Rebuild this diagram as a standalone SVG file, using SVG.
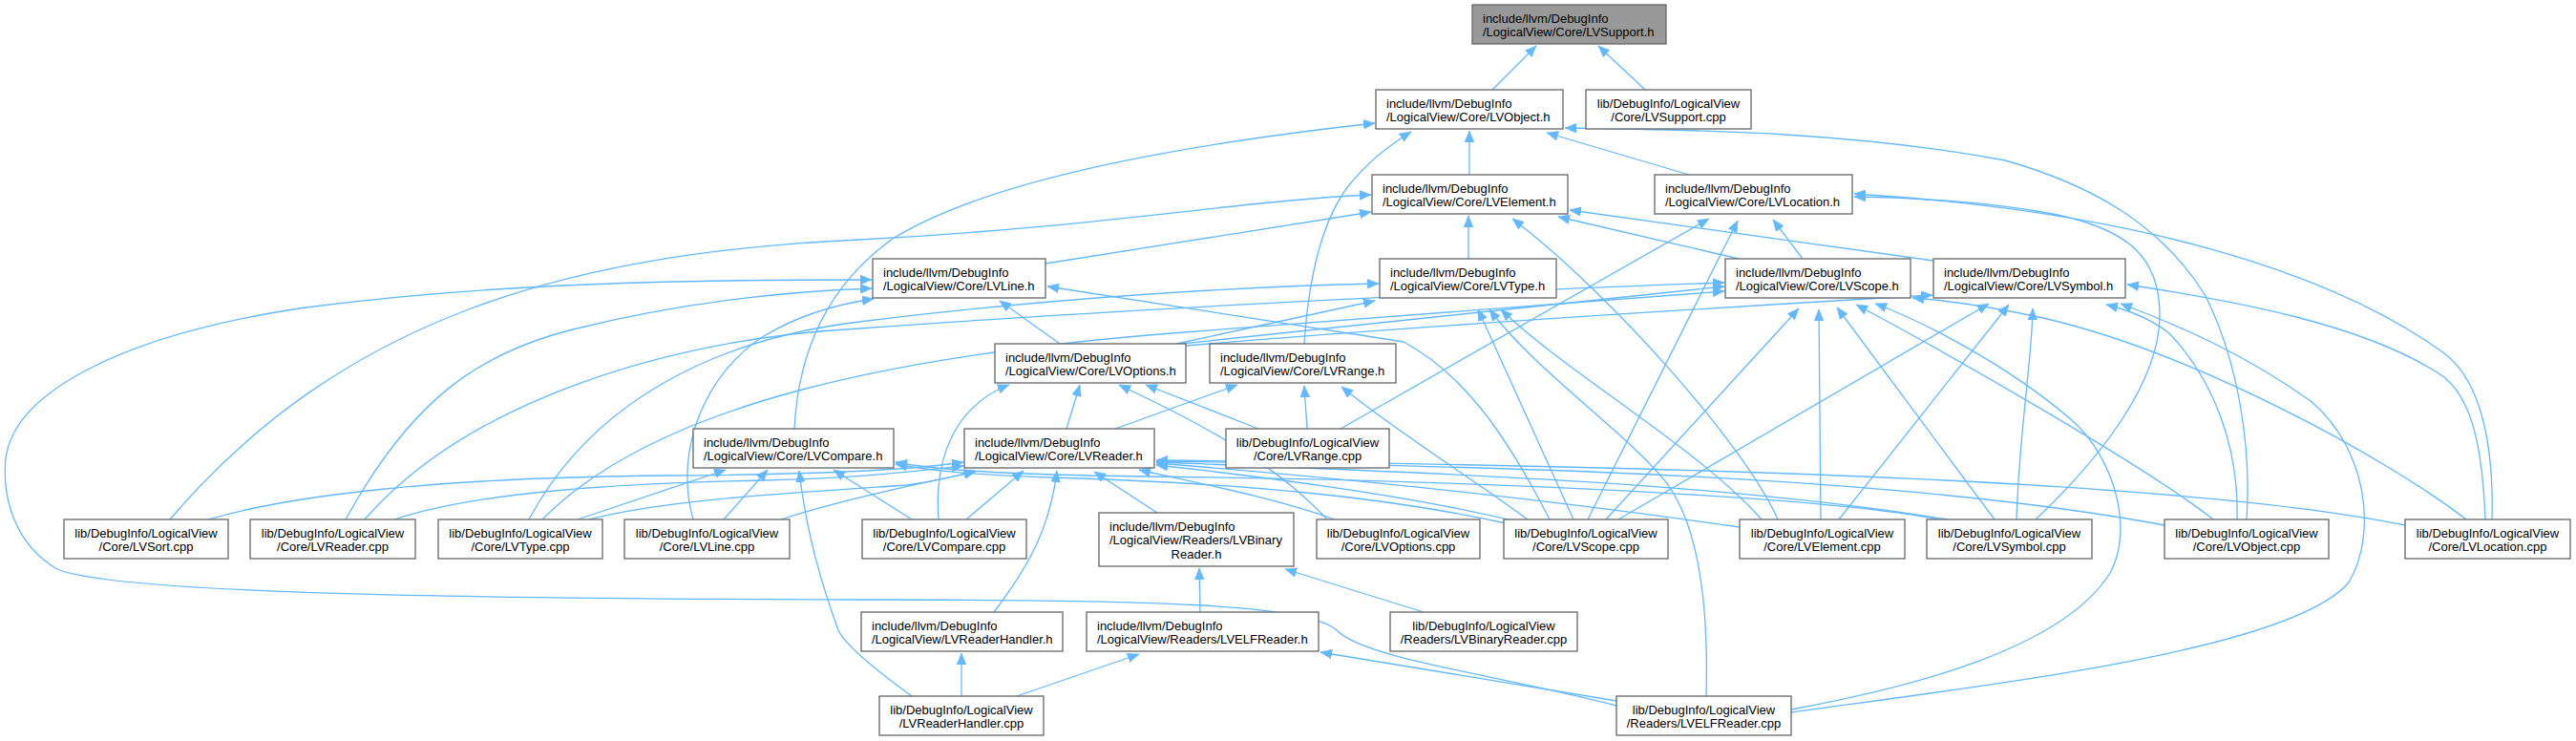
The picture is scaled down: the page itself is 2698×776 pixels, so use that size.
<svg xmlns="http://www.w3.org/2000/svg" width="2698" height="776" viewBox="0 0 2698 776">
<style>
.node rect{fill:#ffffff;stroke:#666666;stroke-width:1.3}
.root rect{fill:#999999}
text{font-family:"Liberation Sans",Arial,Helvetica,sans-serif;font-size:13px;fill:#000000}
.c{text-anchor:middle}
.edges path{fill:none;stroke:#63b8ff;stroke-width:1.3;marker-end:url(#ah)}
</style>
<defs>
<marker id="ah" viewBox="0 0 12 10" markerUnits="userSpaceOnUse" markerWidth="12" markerHeight="10" refX="12" refY="5" orient="auto">
<path d="M0,0 L12,5 L0,10 z" fill="#63b8ff" stroke="#63b8ff" stroke-width="0.5"/>
</marker>
</defs>
<rect x="0" y="0" width="2698" height="776" fill="#ffffff"/>
<g class="edges" id="edges">
<path d="M1563,94 L1609,48"/>
<path d="M1723,94 L1674,48"/>
<path d="M1539,183 L1539,137"/>
<path d="M1769,183 L1620,139"/>
<path d="M832,449 C836,370 865,300 935,250 C1040,185 1250,150 1440,129"/>
<path d="M1366,360 C1370,300 1382,235 1412,195 C1432,170 1455,152 1478,138"/>
<path d="M2353,544 C2358,470 2345,380 2310,310 C2262,232 2185,192 2100,168 C1950,140 1800,136 1639,134"/>
<path d="M1095,276 L1436,222"/>
<path d="M1538,271 L1538,226"/>
<path d="M1821,271 L1632,227"/>
<path d="M2025,273 L1644,220"/>
<path d="M178,544 C360,330 600,265 900,251 C1150,238 1300,210 1436,204"/>
<path d="M1862,544 C1830,470 1690,310 1584,229"/>
<path d="M1888,271 L1857,230"/>
<path d="M1404,449 L1790,229"/>
<path d="M1663,544 L1820,231"/>
<path d="M2132,544 C2200,480 2262,400 2262,330 C2262,270 2230,240 2150,224 C2080,211 2010,207 1942,206"/>
<path d="M2610,544 C2612,470 2600,400 2560,370 C2450,290 2250,222 1942,203"/>
<path d="M1110,360 L1047,315"/>
<path d="M362,544 C430,420 500,370 600,345 C700,320 800,306 913,302"/>
<path d="M726,544 C705,470 740,390 800,352 C840,328 880,318 915,313"/>
<path d="M1623,544 C1575,450 1530,390 1470,358 L1097,300"/>
<path d="M1693,739 C1560,705 1430,690 1400,660 C1370,632 1200,628 900,628 C500,627 120,622 60,596 C15,570 2,520 6,480 C15,410 130,350 320,322 C520,296 720,293 913,293"/>
<path d="M1232,360 L1440,315"/>
<path d="M554,544 C620,420 750,355 900,337 C1100,312 1300,300 1444,297"/>
<path d="M1648,544 L1548,324"/>
<path d="M1845,544 C1780,470 1640,390 1572,324"/>
<path d="M1787,729 C1790,620 1775,545 1745,505 C1700,450 1610,390 1560,324"/>
<path d="M1237,360 L1806,300"/>
<path d="M568,544 C690,420 950,370 1240,348 C1500,330 1700,312 1806,305"/>
<path d="M382,544 C490,420 700,355 900,344 C1200,322 1600,303 1806,296"/>
<path d="M1907,544 L1905,324"/>
<path d="M1682,544 L1884,323"/>
<path d="M2089,544 L1924,322"/>
<path d="M2318,544 C2250,490 2040,370 1944,319"/>
<path d="M2583,544 C2500,480 2300,370 2140,333 C2080,320 2030,314 2003,312"/>
<path d="M1876,743 C2000,720 2160,680 2210,600 C2235,555 2215,480 2170,440 C2100,380 2010,335 1964,318"/>
<path d="M2343,544 C2345,470 2320,400 2273,350 C2255,335 2230,325 2206,319"/>
<path d="M2603,544 C2600,470 2590,420 2560,395 C2480,340 2340,315 2228,298"/>
<path d="M1926,544 L2104,319"/>
<path d="M1695,544 L2083,318"/>
<path d="M2112,544 C2115,450 2128,380 2129,323"/>
<path d="M1876,746 C2100,715 2400,680 2460,610 C2490,560 2480,470 2420,420 C2350,370 2280,340 2221,318"/>
<path d="M1242,362 C1500,340 1800,322 2024,309"/>
<path d="M1117,449 L1131,403"/>
<path d="M983,544 C978,480 1000,425 1057,403"/>
<path d="M1390,544 C1330,480 1250,440 1172,403"/>
<path d="M1318,449 L1200,403"/>
<path d="M1168,449 L1296,403"/>
<path d="M1369,449 L1366,404"/>
<path d="M1600,544 C1540,500 1460,450 1405,405"/>
<path d="M605,544 L760,492"/>
<path d="M758,544 L804,492"/>
<path d="M955,729 C915,700 885,675 878,660 C860,610 845,560 837,493"/>
<path d="M955,544 L873,492"/>
<path d="M1577,548 C1450,520 1300,506 1100,500 C1010,497 970,492 938,486"/>
<path d="M2030,544 C1900,518 1500,502 1200,499 C1050,497 980,492 938,484"/>
<path d="M218,544 C300,520 450,500 700,498 C850,497 950,493 1009,484"/>
<path d="M413,544 C500,515 650,506 800,503 C900,501 960,493 1009,488"/>
<path d="M617,544 C700,522 850,515 950,508 C985,503 1005,498 1021,493"/>
<path d="M818,544 C860,530 920,515 1022,494"/>
<path d="M1012,544 L1072,493"/>
<path d="M1398,544 C1330,520 1250,505 1193,492"/>
<path d="M1588,546 C1480,520 1330,500 1211,487"/>
<path d="M1822,552 C1600,520 1400,500 1211,485"/>
<path d="M2040,544 C1800,505 1500,495 1211,484"/>
<path d="M2267,550 C2000,500 1600,488 1211,483"/>
<path d="M2519,550 C2300,505 1800,488 1211,482"/>
<path d="M1041,641 C1080,590 1100,550 1107,493"/>
<path d="M1212,537 L1146,494"/>
<path d="M1257,641 L1256,595"/>
<path d="M1491,641 L1346,596"/>
<path d="M1065,729 L1193,685"/>
<path d="M1693,734 L1383,683"/>
<path d="M1007,729 L1007,684"/>
</g>
<g id="n0" class="node root"><rect x="1542" y="5" width="203" height="41"/><text x="1553" y="23.5">include/llvm/DebugInfo</text><text x="1553" y="38">/LogicalView/Core/LVSupport.h</text></g>
<g id="n1" class="node"><rect x="1441" y="94" width="196" height="41"/><text x="1452" y="112.5">include/llvm/DebugInfo</text><text x="1452" y="127">/LogicalView/Core/LVObject.h</text></g>
<g id="n2" class="node"><rect x="1661" y="94" width="173" height="41"/><text class="c" x="1747.5" y="112.5">lib/DebugInfo/LogicalView</text><text class="c" x="1747.5" y="127">/Core/LVSupport.cpp</text></g>
<g id="n3" class="node"><rect x="1437" y="183" width="205" height="41"/><text x="1448" y="201.5">include/llvm/DebugInfo</text><text x="1448" y="216">/LogicalView/Core/LVElement.h</text></g>
<g id="n4" class="node"><rect x="1733" y="183" width="207" height="41"/><text x="1744" y="201.5">include/llvm/DebugInfo</text><text x="1744" y="216">/LogicalView/Core/LVLocation.h</text></g>
<g id="n5" class="node"><rect x="914" y="271" width="181" height="41"/><text x="925" y="289.5">include/llvm/DebugInfo</text><text x="925" y="304">/LogicalView/Core/LVLine.h</text></g>
<g id="n6" class="node"><rect x="1445" y="271" width="185" height="41"/><text x="1456" y="289.5">include/llvm/DebugInfo</text><text x="1456" y="304">/LogicalView/Core/LVType.h</text></g>
<g id="n7" class="node"><rect x="1807" y="271" width="194" height="41"/><text x="1818" y="289.5">include/llvm/DebugInfo</text><text x="1818" y="304">/LogicalView/Core/LVScope.h</text></g>
<g id="n8" class="node"><rect x="2025" y="271" width="201" height="41"/><text x="2036" y="289.5">include/llvm/DebugInfo</text><text x="2036" y="304">/LogicalView/Core/LVSymbol.h</text></g>
<g id="n9" class="node"><rect x="1042" y="360" width="200" height="41"/><text x="1053" y="378.5">include/llvm/DebugInfo</text><text x="1053" y="393">/LogicalView/Core/LVOptions.h</text></g>
<g id="n10" class="node"><rect x="1267" y="360" width="195" height="41"/><text x="1278" y="378.5">include/llvm/DebugInfo</text><text x="1278" y="393">/LogicalView/Core/LVRange.h</text></g>
<g id="n11" class="node"><rect x="726" y="449" width="210" height="41"/><text x="737" y="467.5">include/llvm/DebugInfo</text><text x="737" y="482">/LogicalView/Core/LVCompare.h</text></g>
<g id="n12" class="node"><rect x="1010" y="449" width="199" height="41"/><text x="1021" y="467.5">include/llvm/DebugInfo</text><text x="1021" y="482">/LogicalView/Core/LVReader.h</text></g>
<g id="n13" class="node"><rect x="1284" y="449" width="171" height="41"/><text class="c" x="1369.5" y="467.5">lib/DebugInfo/LogicalView</text><text class="c" x="1369.5" y="482">/Core/LVRange.cpp</text></g>
<g id="n14" class="node"><rect x="67" y="544" width="172" height="41"/><text class="c" x="153" y="562.5">lib/DebugInfo/LogicalView</text><text class="c" x="153" y="577">/Core/LVSort.cpp</text></g>
<g id="n15" class="node"><rect x="262" y="544" width="173" height="41"/><text class="c" x="348.5" y="562.5">lib/DebugInfo/LogicalView</text><text class="c" x="348.5" y="577">/Core/LVReader.cpp</text></g>
<g id="n16" class="node"><rect x="459" y="544" width="172" height="41"/><text class="c" x="545" y="562.5">lib/DebugInfo/LogicalView</text><text class="c" x="545" y="577">/Core/LVType.cpp</text></g>
<g id="n17" class="node"><rect x="654" y="544" width="173" height="41"/><text class="c" x="740.5" y="562.5">lib/DebugInfo/LogicalView</text><text class="c" x="740.5" y="577">/Core/LVLine.cpp</text></g>
<g id="n18" class="node"><rect x="903" y="544" width="172" height="41"/><text class="c" x="989" y="562.5">lib/DebugInfo/LogicalView</text><text class="c" x="989" y="577">/Core/LVCompare.cpp</text></g>
<g id="n19" class="node"><rect x="1151" y="537" width="204" height="56"/><text x="1162" y="555.5">include/llvm/DebugInfo</text><text x="1162" y="570">/LogicalView/Readers/LVBinary</text><text class="c" x="1253" y="584.5">Reader.h</text></g>
<g id="n20" class="node"><rect x="1379" y="544" width="171" height="41"/><text class="c" x="1464.5" y="562.5">lib/DebugInfo/LogicalView</text><text class="c" x="1464.5" y="577">/Core/LVOptions.cpp</text></g>
<g id="n21" class="node"><rect x="1575" y="544" width="172" height="41"/><text class="c" x="1661" y="562.5">lib/DebugInfo/LogicalView</text><text class="c" x="1661" y="577">/Core/LVScope.cpp</text></g>
<g id="n22" class="node"><rect x="1822" y="544" width="173" height="41"/><text class="c" x="1908.5" y="562.5">lib/DebugInfo/LogicalView</text><text class="c" x="1908.5" y="577">/Core/LVElement.cpp</text></g>
<g id="n23" class="node"><rect x="2018" y="544" width="173" height="41"/><text class="c" x="2104.5" y="562.5">lib/DebugInfo/LogicalView</text><text class="c" x="2104.5" y="577">/Core/LVSymbol.cpp</text></g>
<g id="n24" class="node"><rect x="2267" y="544" width="172" height="41"/><text class="c" x="2353" y="562.5">lib/DebugInfo/LogicalView</text><text class="c" x="2353" y="577">/Core/LVObject.cpp</text></g>
<g id="n25" class="node"><rect x="2519" y="544" width="173" height="41"/><text class="c" x="2605.5" y="562.5">lib/DebugInfo/LogicalView</text><text class="c" x="2605.5" y="577">/Core/LVLocation.cpp</text></g>
<g id="n26" class="node"><rect x="902" y="641" width="211" height="41"/><text x="913" y="659.5">include/llvm/DebugInfo</text><text x="913" y="674">/LogicalView/LVReaderHandler.h</text></g>
<g id="n27" class="node"><rect x="1138" y="641" width="243" height="41"/><text x="1149" y="659.5">include/llvm/DebugInfo</text><text x="1149" y="674">/LogicalView/Readers/LVELFReader.h</text></g>
<g id="n28" class="node"><rect x="1456" y="641" width="196" height="41"/><text class="c" x="1554" y="659.5">lib/DebugInfo/LogicalView</text><text class="c" x="1554" y="674">/Readers/LVBinaryReader.cpp</text></g>
<g id="n29" class="node"><rect x="921" y="729" width="172" height="41"/><text class="c" x="1007" y="747.5">lib/DebugInfo/LogicalView</text><text class="c" x="1007" y="762">/LVReaderHandler.cpp</text></g>
<g id="n30" class="node"><rect x="1693" y="729" width="183" height="41"/><text class="c" x="1784.5" y="747.5">lib/DebugInfo/LogicalView</text><text class="c" x="1784.5" y="762">/Readers/LVELFReader.cpp</text></g>
</svg>
